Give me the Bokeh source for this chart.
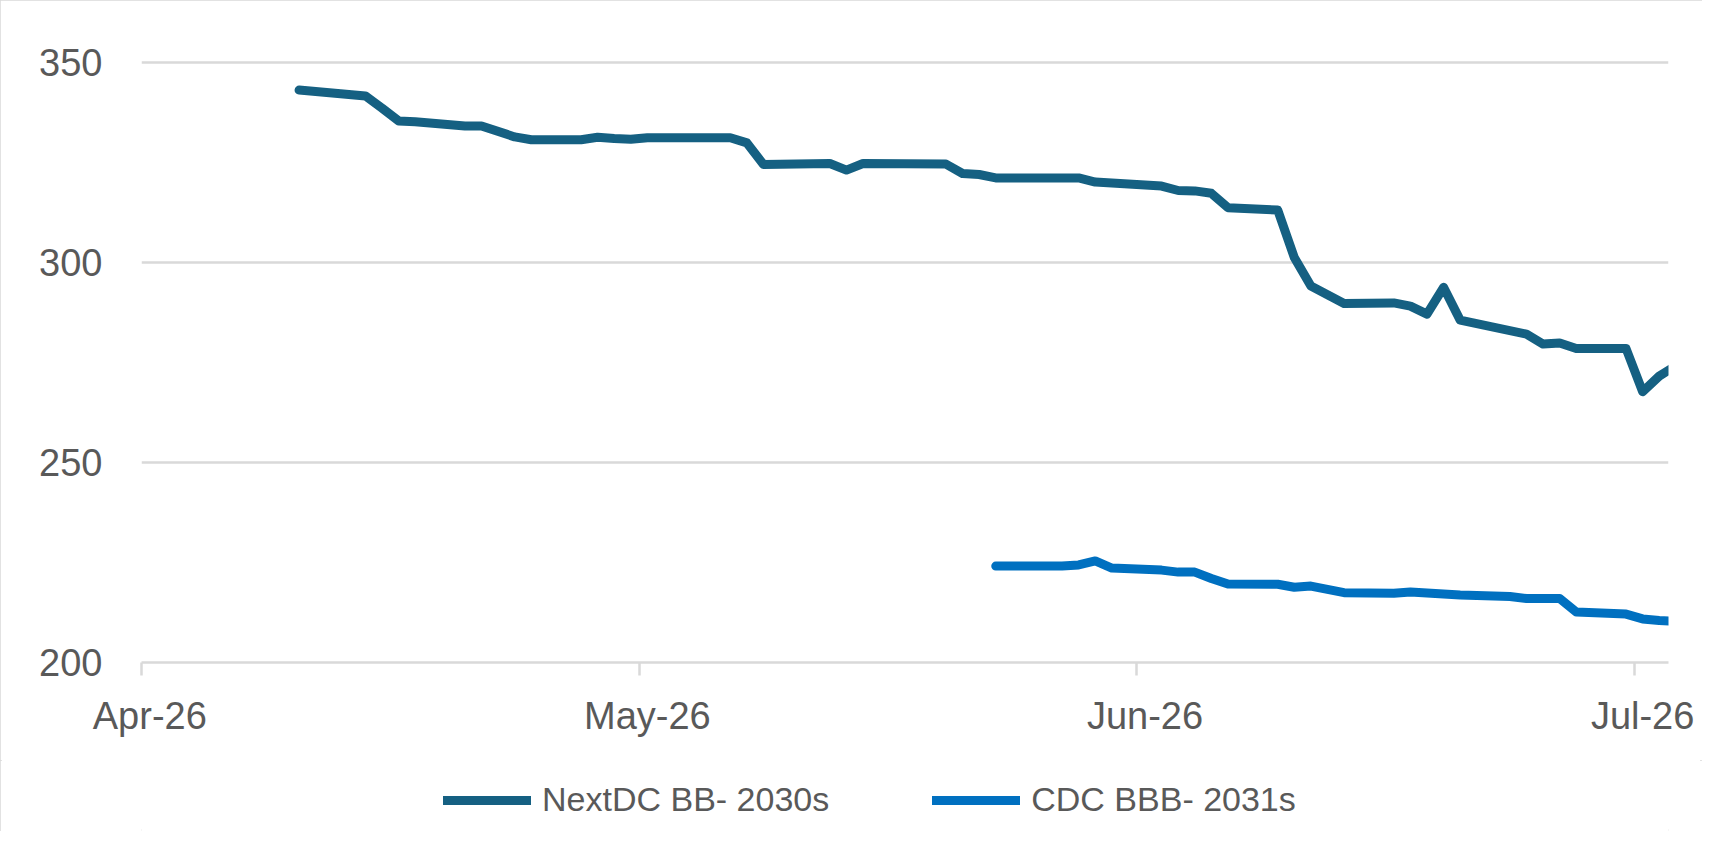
import pandas as pd
from bokeh.plotting import figure
from bokeh.layouts import column
from bokeh.models import Range1d, FixedTicker, DatetimeTickFormatter, Legend, LegendItem
from bokeh.embed import file_html
from bokeh.resources import INLINE

# ---------------- data ----------------
nextdc_dates = [
    "2026-04-17", "2026-04-21", "2026-04-22", "2026-04-23", "2026-04-24", "2026-04-27",
    "2026-04-28", "2026-04-30", "2026-05-01", "2026-05-04", "2026-05-05", "2026-05-06",
    "2026-05-07", "2026-05-08", "2026-05-13", "2026-05-14", "2026-05-15", "2026-05-19",
    "2026-05-20", "2026-05-21", "2026-05-26", "2026-05-27", "2026-05-28", "2026-05-29",
    "2026-06-03", "2026-06-04", "2026-06-08", "2026-06-09", "2026-06-10", "2026-06-11",
    "2026-06-12", "2026-06-15", "2026-06-16", "2026-06-17", "2026-06-19", "2026-06-22",
    "2026-06-23", "2026-06-24", "2026-06-25", "2026-06-26", "2026-06-30", "2026-07-01",
    "2026-07-02", "2026-07-03", "2026-07-06", "2026-07-07", "2026-07-08", "2026-07-09",
]
nextdc_values = [
    343.1, 341.65, 338.6, 335.4, 335.2, 334.15,
    334.15, 331.4, 330.7, 330.7, 331.3, 331.0,
    330.8, 331.2, 331.2, 329.9, 324.5, 324.75,
    323.1, 324.75, 324.6, 322.25, 322.0, 321.15,
    321.15, 320.1, 319.1, 318.0, 317.9, 317.3,
    313.7, 313.1, 301.25, 294.1, 289.75, 289.9,
    289.1, 287.1, 293.8, 285.6, 282.1, 279.6,
    279.9, 278.5, 278.5, 267.7, 271.6, 274.2,
]

cdc_dates = [
    "2026-05-29", "2026-06-02", "2026-06-03", "2026-06-04", "2026-06-05", "2026-06-08",
    "2026-06-09", "2026-06-10", "2026-06-11", "2026-06-12", "2026-06-15", "2026-06-16",
    "2026-06-17", "2026-06-19", "2026-06-22", "2026-06-23", "2026-06-26", "2026-06-29",
    "2026-06-30", "2026-07-02", "2026-07-03", "2026-07-06", "2026-07-07", "2026-07-08",
    "2026-07-09",
]
cdc_values = [
    224.1, 224.1, 224.4, 225.4, 223.6, 223.1,
    222.6, 222.6, 221.0, 219.6, 219.55, 218.8,
    219.1, 217.45, 217.3, 217.65, 216.9, 216.5,
    216.0, 216.0, 212.65, 212.1, 210.9, 210.5,
    210.3,
]

series_names = ["NextDC BB- 2030s", "CDC BBB- 2031s"]
series_colors = ["#156082", "#0070C0"]

x_tick_dates = ["2026-04-08", "2026-05-08", "2026-06-07", "2026-07-07"]
x_tick_labels = ["Apr-26", "May-26", "Jun-26", "Jul-26"]
y_ticks = [200, 250, 300, 350]

axis_start = "2026-04-08"
axis_days = 92.06

# ---------------- helpers ----------------
EPOCH = pd.Timestamp("1970-01-01")
HALF_DAY = pd.Timedelta(hours=12)


def to_ms(ts):
    return (ts - EPOCH).total_seconds() * 1000.0


nx = [to_ms(pd.Timestamp(d) + HALF_DAY) for d in nextdc_dates]
cx = [to_ms(pd.Timestamp(d) + HALF_DAY) for d in cdc_dates]
tick_marks = [to_ms(pd.Timestamp(d)) for d in x_tick_dates]
tick_label_pos = [to_ms(pd.Timestamp(d) + HALF_DAY) for d in x_tick_dates]

x0 = to_ms(pd.Timestamp(axis_start))
x1 = to_ms(pd.Timestamp(axis_start) + pd.Timedelta(days=axis_days))

FONT = "Liberation Sans"
TXT = "#595959"
GRID = "#D9D9D9"
LW = 9

p = figure(
    width=1702, height=760,
    x_axis_type="datetime",
    x_range=Range1d(x0, x1), y_range=Range1d(200, 351),
    output_backend="svg", toolbar_location=None,
    min_border_left=141, min_border_right=34,
    min_border_top=58, min_border_bottom=98,
)
p.outline_line_color = None
p.background_fill_color = "white"
p.border_fill_color = "white"

# x axis
p.xaxis.ticker = FixedTicker(ticks=tick_label_pos, minor_ticks=tick_marks)
fmt = "%b-%y"
p.xaxis.formatter = DatetimeTickFormatter(
    microseconds=fmt, milliseconds=fmt, seconds=fmt, minsec=fmt, minutes=fmt,
    hourmin=fmt, hours=fmt, days=fmt, months=fmt, years=fmt,
)
p.xaxis.axis_line_color = GRID
p.xaxis.axis_line_width = 2.5
p.xaxis.major_tick_line_color = None
p.xaxis.major_tick_in = 0
p.xaxis.major_tick_out = 0
p.xaxis.minor_tick_line_color = GRID
p.xaxis.minor_tick_line_width = 2.5
p.xaxis.minor_tick_in = 0
p.xaxis.minor_tick_out = 13
p.xaxis.major_label_standoff = 19
p.xaxis.major_label_text_font = FONT
p.xaxis.major_label_text_font_size = "38px"
p.xaxis.major_label_text_color = TXT

# y axis
p.yaxis.ticker = FixedTicker(ticks=y_ticks)
p.yaxis.axis_line_color = None
p.yaxis.major_tick_line_color = None
p.yaxis.major_tick_in = 0
p.yaxis.major_tick_out = 0
p.yaxis.minor_tick_line_color = None
p.yaxis.major_label_standoff = 39
p.yaxis.major_label_text_font = FONT
p.yaxis.major_label_text_font_size = "38px"
p.yaxis.major_label_text_color = TXT

p.xgrid.grid_line_color = None
p.ygrid.grid_line_color = GRID
p.ygrid.grid_line_width = 2.5

p.line(nx, nextdc_values, line_color=series_colors[0], line_width=LW,
       line_cap="round", line_join="round")
p.line(cx, cdc_values, line_color=series_colors[1], line_width=LW,
       line_cap="round", line_join="round")

# ---------------- legend strip ----------------
pl = figure(
    width=1702, height=71,
    x_range=Range1d(0, 1), y_range=Range1d(0, 1),
    output_backend="svg", toolbar_location=None,
    min_border_left=0, min_border_right=0, min_border_top=0, min_border_bottom=0,
    x_axis_location=None, y_axis_location=None,
)
pl.grid.visible = False
pl.outline_line_color = None
pl.background_fill_color = "white"
pl.border_fill_color = "white"

# legend proxies: same series, outside this strip's (empty) view, so only the legend shows
g1 = pl.line(nx, nextdc_values, line_color=series_colors[0], line_width=LW, line_cap="round")
g2 = pl.line(cx, cdc_values, line_color=series_colors[1], line_width=LW, line_cap="round")

legend = Legend(
    items=[LegendItem(label=series_names[0], renderers=[g1]),
           LegendItem(label=series_names[1], renderers=[g2])],
    location=(302, 12), orientation="horizontal",
    glyph_width=88, glyph_height=20, label_standoff=11, spacing=103,
    padding=0, margin=0, border_line_color=None, background_fill_alpha=0,
    label_text_font=FONT, label_text_font_size="34px", label_text_color=TXT,
    label_height=20,
)
pl.add_layout(legend)

page = column(p, pl, spacing=0,
              styles={"outline": "2px solid #D9D9D9", "outline-offset": "-2px"})

open("out.html", "w").write(file_html(page, INLINE))
